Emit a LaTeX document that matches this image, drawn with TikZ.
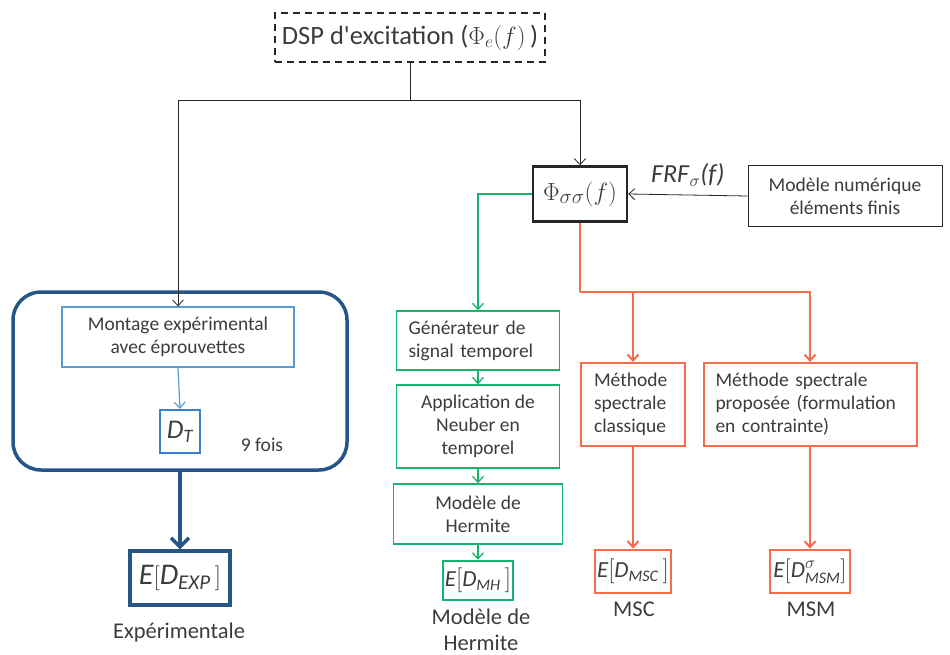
\documentclass[tikz,border=0pt]{standalone}
\usepackage{amsmath}
\usepackage{fontspec}
\setmainfont{Carlito}
\usetikzlibrary{arrows.meta}

\definecolor{darkblue}{RGB}{38,86,134}
\definecolor{lightblue}{RGB}{91,155,213}
\definecolor{midblue}{RGB}{58,128,198}
\definecolor{mygreen}{RGB}{20,180,110}
\definecolor{myorange}{RGB}{245,108,72}
\definecolor{textgray}{RGB}{60,60,60}

\tikzset{
  box/.style={draw, align=center, text=textgray, font=\fontsize{19.5}{23}\selectfont},
  bluebox/.style={box, draw=lightblue, line width=1.2pt},
  greenbox/.style={box, draw=mygreen, line width=1.5pt},
  orangebox/.style={box, draw=myorange, line width=2pt},
  result/.style={box, inner sep=2pt, font=\fontsize{23}{26}\selectfont},
  caption/.style={text=textgray, align=center, inner sep=0pt, font=\fontsize{22.5}{26}\selectfont},
  tip/.style={-{Straight Barb[length=6pt,width=11pt]}},
  blackline/.style={tip, black!85, line width=0.8pt},
  greenline/.style={tip, mygreen, line width=1.3pt},
  orangeline/.style={tip, myorange, line width=2pt},
}

\begin{document}
\begin{tikzpicture}[x=1pt,y=-1pt]
	\useasboundingbox (0,0) rectangle (950,655);
	
	% Source and transfer
	\node[box, draw=black!85, dash pattern=on 7pt off 5pt, line width=1.5pt, minimum width=270pt, minimum height=49pt,
	      font=\fontsize{26.5}{30}\selectfont] (dsp) at (410,37.5) {DSP d\textquotesingle excitation ($\Phi_e(f)$\,)};
	\node[box, draw=black!85, line width=2.4pt, minimum width=94pt, minimum height=55pt,
	      font=\fontsize{30}{34}\selectfont] (phi) at (580,194) {$\Phi_{\sigma\sigma}(f)$};
	\node[box, draw=black!85, line width=1pt, minimum width=194pt, minimum height=61pt] (fem) at (845,196)
	      {Modèle numérique\\éléments finis};
	\coordinate (split) at (410,100);
	\coordinate (osplit) at (580,292);
	
	% Experimental branch
	\node[draw=darkblue, line width=3.5pt, rounded corners=28pt, minimum width=334pt, minimum height=178pt] (loop) at (180,381) {};
	\node[bluebox, minimum width=232pt, minimum height=60pt] (montage) at (178,337)
	      {Montage expérimental\\avec éprouvettes};
	\node[box, draw=midblue, line width=2.2pt, minimum width=40pt, minimum height=43pt, inner sep=1pt,
	      font=\fontsize{27}{30}\selectfont] (dt) at (180,431.5) {$\textit{D}_{\textit{T}}$};
	\node[text=textgray, font=\fontsize{19.5}{22}\selectfont] (nine) at (262,445) {9 fois};
	\node[result, draw=darkblue, line width=3.5pt, minimum width=100pt, minimum height=54pt,
	      font=\fontsize{30}{34}\selectfont] (eexp) at (180,578) {$\textit{E}[\textit{D}_{\textit{EXP}}\,]$};
	\node[caption] (lexp) at (179,632) {Expérimentale};
	
	% Hermite branch
	\node[greenbox, text width=139pt, inner xsep=12pt, align=left, minimum height=59pt] (gen) at (478,340.5)
	      {Générateur de\\signal temporel};
	\node[greenbox, minimum width=163pt, minimum height=83pt] (neuber) at (478,426.5)
	      {Application de\\Neuber en\\temporel};
	\node[greenbox, minimum width=169pt, minimum height=60pt] (herm) at (478,514)
	      {Modèle de\\Hermite};
	\node[result, draw=mygreen, line width=2.6pt, minimum width=68pt, minimum height=39pt] (emh) at (478,580.5)
	      {$\textit{E}[\textit{D}_{\textit{MH}}\,]$};
	\node[caption] (lmh) at (481,630) {Modèle de\\Hermite};
	
	% Spectral branches
	\node[orangebox, text width=78pt, inner xsep=13pt, align=left, minimum height=83pt] (msc) at (633,404.5)
	      {Méthode\\spectrale\\classique};
	\node[orangebox, text width=189pt, inner xsep=12pt, align=left, minimum height=83pt] (msm) at (810,404.5)
	      {Méthode spectrale\\proposée (formulation\\en contrainte)};
	\node[result, draw=myorange, line width=2.8pt, minimum width=72pt, minimum height=43pt] (emsc) at (633,571.5)
	      {$\textit{E}[\textit{D}_{\textit{MSC}}\,]$};
	\node[result, draw=myorange, line width=2.8pt, minimum width=80pt, minimum height=43pt] (emsm) at (810,571.5)
	      {$\textit{E}[\textit{D}^{\sigma}_{\textit{MSM}}]$};
	\node[caption] (lmsc) at (634,609) {MSC};
	\node[caption] (lmsm) at (811,609) {MSM};
	
	% Connectors
	\draw[black!85, line width=0.8pt] (dsp.south) -- (split);
	\draw[blackline] (split) -| (montage.north);
	\draw[blackline] (split) -| (phi.north);
	\draw[blackline] (fem.west) -- (phi.east)
	      node[midway, above=5pt, text=textgray, font=\fontsize{26}{30}\selectfont] {\textit{FRF}$_\sigma$\textit{(f)}};
	\draw[tip, lightblue, line width=1.2pt] (montage.south) -- (dt.north);
	\draw[darkblue, line width=3.5pt, -{Straight Barb[length=9pt,width=18pt]}] (loop.south) -- (eexp.north);
	\draw[greenline] (phi.west) -| (gen.north);
	\draw[greenline] (gen.south) -- (neuber.north);
	\draw[greenline] (neuber.south) -- (herm.north);
	\draw[greenline] (herm.south) -- (emh.north);
	\draw[myorange, line width=2pt] (phi.south) -- (osplit);
	\draw[orangeline] (osplit) -| (msc.north);
	\draw[orangeline] (osplit) -| (msm.north);
	\draw[orangeline] (msc.south) -- (emsc.north);
	\draw[orangeline] (msm.south) -- (emsm.north);
\end{tikzpicture}
\end{document}
